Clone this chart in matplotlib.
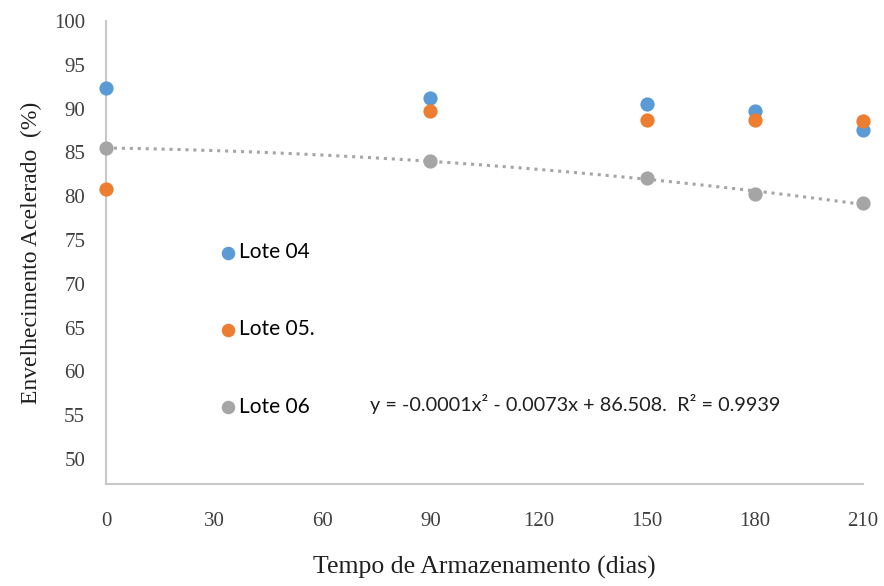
import numpy as np
import matplotlib
matplotlib.use('Agg')
import matplotlib.pyplot as plt

dias = [0, 90, 150, 180, 210]
lote04 = [92.3, 91.2, 90.5, 89.7, 87.6]
lote05 = [80.8, 89.7, 88.7, 88.7, 88.6]
lote06 = [85.5, 84.0, 82.1, 80.3, 79.2]
nomes = ['Lote 04', 'Lote 05.', 'Lote 06']
xticks = [0, 30, 60, 90, 120, 150, 180, 210]
yticks = [50, 55, 60, 65, 70, 75, 80, 85, 90, 95, 100]
equacao = 'y = -0.0001x² - 0.0073x + 86.508.  R² = 0.9939'

cores = ['#5B9BD5', '#ED7D31', '#A5A5A5']
serif = ['Liberation Serif', 'DejaVu Serif']
sans = ['Lato', 'DejaVu Sans']

fig = plt.figure(figsize=(8.84, 5.86), dpi=100)
ax = fig.add_axes([106/884, 1-484/586, 757/884, 463/586])

# linha de tendencia (polinomio grau 2) do lote 06
coef = np.polyfit(dias, lote06, 2)
xx = np.linspace(0, 210, 200)
ax.plot(xx, np.polyval(coef, xx), color='#A5A5A5', linestyle=(0, (1, 1.6)), linewidth=2.2, zorder=1)

for serie, cor, nome in zip([lote04, lote05, lote06], cores, nomes):
    ax.scatter(dias, serie, s=105, color=cor, label=nome, zorder=3, linewidths=0, clip_on=False)

ax.set_xlim(0, 210)
ax.set_ylim(47.15, 100)
ax.set_xticks(xticks)
ax.set_yticks(yticks)
ax.tick_params(length=0, labelsize=15, colors='#404040')
ax.tick_params(axis='x', pad=20)
ax.tick_params(axis='y', pad=15)
for lbl in ax.get_xticklabels() + ax.get_yticklabels():
    lbl.set_family(serif)

for s in ['top', 'right']:
    ax.spines[s].set_visible(False)
for s in ['left', 'bottom']:
    ax.spines[s].set_color('#C8C8C8')
    ax.spines[s].set_linewidth(1.5)

ax.set_xlabel('Tempo de Armazenamento (dias)', family=serif, fontsize=18.5, color='#202020', labelpad=18)
ax.set_ylabel('Envelhecimento Acelerado  (%)', family=serif, fontsize=17, color='#202020', labelpad=9)

leg = ax.legend(loc='upper left', bbox_to_anchor=(0.133, 0.545), frameon=False,
                prop={'family': sans, 'size': 15}, labelspacing=2.75,
                handletextpad=0.05, handlelength=1.0, markerscale=0.95, borderpad=0)

ax.text(0.349, 0.173, equacao, transform=ax.transAxes, family=sans, fontsize=14.3,
        va='center', ha='left', color='#202020')

fig.savefig('out.png', dpi=100)
